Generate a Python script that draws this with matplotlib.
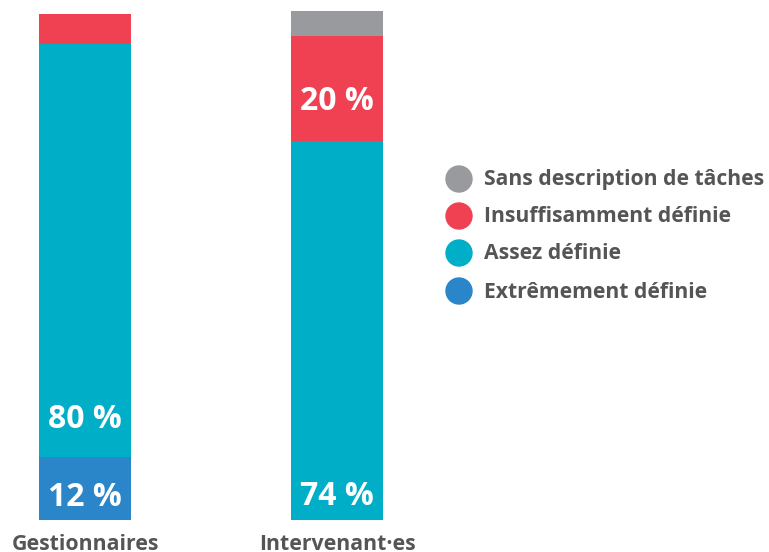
import matplotlib.pyplot as plt
import numpy as np
from matplotlib.patches import Ellipse

plt.rcParams['font.family'] = ['Open Sans', 'DejaVu Sans']
plt.rcParams['font.weight'] = 'bold'

# donnees
groupes = ['Gestionnaires', 'Intervenant·es']
series = ['Extrêmement définie', 'Assez définie', 'Insuffisamment définie', 'Sans description de tâches']
extremement = [12.4, 0.0]
assez = [81.2, 74.5]
insuffisamment = [5.9, 20.6]
sans_desc = [0.0, 4.9]
couleurs = ['#2a86c8', '#00aec7', '#ef4152', '#999a9e']

# etiquettes dans les barres (groupe, texte)
etiquettes = [(0, '12 %'), (0, '80 %'), (1, '20 %'), (1, '74 %')]
etiq_y = [4.5, 19.8, 82.3, 4.7]

W, H = 769, 552
fig = plt.figure(figsize=(W / 100, H / 100), dpi=100)
ax = fig.add_axes([0, 0, 1, 1])

x = np.arange(len(groupes))
largeur = 92 / 252
bas = np.zeros(len(groupes))
for vals, c in zip([extremement, assez, insuffisamment, sans_desc], couleurs):
    ax.bar(x, vals, largeur, bottom=bas, color=c, linewidth=0)
    bas += np.array(vals)

for (g, t), y in zip(etiquettes, etiq_y):
    ax.text(x[g], y, t, ha='center', va='center', color='white',
            fontsize=23, fontweight='bold')

for xi, g in zip(x, groupes):
    ax.text(xi, -4.9, g, ha='center', va='center', color='#555555',
            fontsize=15.3, fontweight='bold')

ax.set_xlim(-85 / 252, (W - 85) / 252)
ax.set_ylim(-(H - 520) / 5.09, 100 + 11 / 5.09)
ax.axis('off')

# legende
leg_y = [179, 216, 253, 291]
for s, c, py in zip(series[::-1], couleurs[::-1], leg_y):
    fy = 1 - py / H
    fig.patches.append(Ellipse((459 / W, fy), 26 / W, 26 / H, color=c,
                               transform=fig.transFigure, figure=fig))
    fig.text(484 / W, fy - 1 / H, s, ha='left', va='center', color='#555555',
             fontsize=15.2, fontweight='bold')

fig.savefig('out.png', dpi=100)
